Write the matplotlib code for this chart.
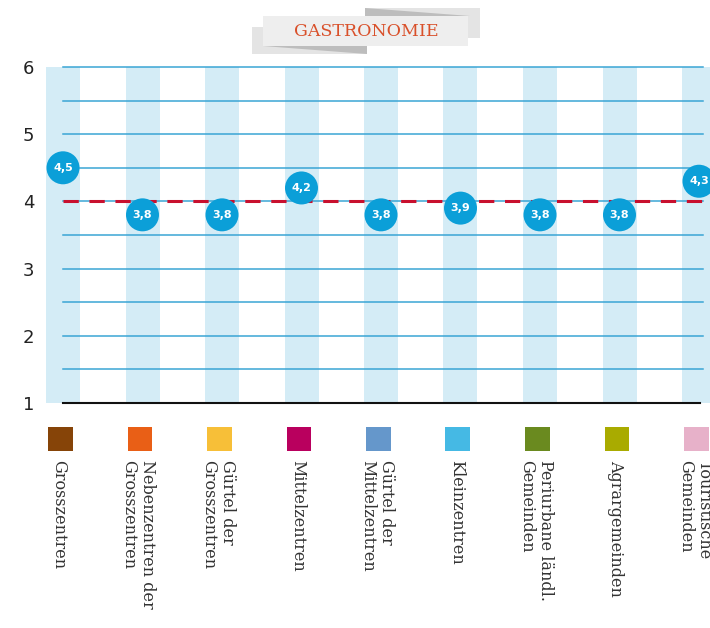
import matplotlib
matplotlib.use("Agg")
import matplotlib.pyplot as plt
from matplotlib.patches import Rectangle, Polygon, Circle

# data
categories = [
    "Grosszentren",
    "Nebenzentren der\nGrosszentren",
    "Gürtel der\nGrosszentren",
    "Mittelzentren",
    "Gürtel der\nMittelzentren",
    "Kleinzentren",
    "Periurbane ländl.\nGemeinden",
    "Agrargemeinden",
    "Touristische\nGemeinden",
]
values = [4.5, 3.8, 3.8, 4.2, 3.8, 3.9, 3.8, 3.8, 4.3]
value_labels = ["4,5", "3,8", "3,8", "4,2", "3,8", "3,9", "3,8", "3,8", "4,3"]
category_colors = ["#864408", "#e95f16", "#f7bf38", "#b9005e", "#6597cb",
                   "#45b9e4", "#6a8a1f", "#a9ab00", "#e7b1c9"]
mean_value = 4.0
y_ticks = [1, 2, 3, 4, 5, 6]
title = "GASTRONOMIE"

W, H = 710, 628
fig = plt.figure(figsize=(W / 100, H / 100), dpi=100)

# axes placed in pixel terms: col 0 at x=63px, spacing 79.5px
col0, step = 63, 79.5
ax_left, ax_right = 47, 710
y_bot, y_top = 403, 67
ax = fig.add_axes([ax_left / W, (H - y_bot) / H, (ax_right - ax_left) / W, (y_bot - y_top) / H])
ax.set_xlim((ax_left - col0) / step, (ax_right - col0) / step)
ax.set_ylim(1, 6)
for s in ax.spines.values():
    s.set_visible(False)
ax.set_xticks([])
ax.set_yticks(y_ticks)
ax.set_yticklabels([str(t) for t in y_ticks], fontsize=13, color="#222222", family="DejaVu Sans")
ax.tick_params(axis="y", length=0, pad=9)

n = len(categories)
band_w = 34 / step

# light blue column bands
for i in range(n):
    ax.add_patch(Rectangle((i - band_w / 2, 1), band_w, 5, facecolor="#d4ecf6",
                           edgecolor="none", zorder=0, clip_on=False))

# horizontal grid lines
grid_end = (703 - col0) / step
y = 1.5
while y <= 6.01:
    ax.plot([0, grid_end], [y, y], color="#3aa5d5", lw=1.1, zorder=1, clip_on=False)
    y += 0.5
ax.plot([0, (700 - col0) / step], [1, 1], color="#111111", lw=1.5, zorder=2, clip_on=False)

# mean dashed line
ax.plot([0, grid_end], [mean_value, mean_value], color="#c8102e", lw=2.2,
        dashes=(5, 3.5), zorder=3, clip_on=False)

# value circles
ppu_x = step  # pixels per x unit
ppu_y = (y_bot - y_top) / 5
r_px = 16.5
for i, (v, lab) in enumerate(zip(values, value_labels)):
    ax.scatter(i, v, s=(2 * r_px * 0.72) ** 2, color="#0b9fd8", zorder=5, clip_on=False,
               edgecolors="none")
    ax.text(i, v, lab, color="white", fontsize=8, fontweight="bold", ha="center",
            va="center", zorder=6, family="DejaVu Sans", clip_on=False)

# legend squares and labels under the axis
def py(p):
    return 1 - (p - y_bot) / ppu_y

for i, (c, lab) in enumerate(zip(category_colors, categories)):
    ax.add_patch(Rectangle((i - 15 / step, py(451)), 24.5 / step, py(427) - py(451),
                           facecolor=c, edgecolor="none", clip_on=False))
    ax.text(i - 4 / step, py(460), lab, rotation=270, rotation_mode="anchor",
            ha="left", va="center", fontsize=11.5, color="#333333",
            family="DejaVu Serif", linespacing=1.15, clip_on=False)

# title banner
fx = lambda p: p / W
fy = lambda p: 1 - p / H
fig.patches.append(Polygon([(fx(365), fy(8)), (fx(480), fy(8)), (fx(480), fy(38)), (fx(365), fy(38))],
                           closed=True, transform=fig.transFigure, facecolor="#e4e4e4",
                           edgecolor="none", zorder=1))
fig.patches.append(Polygon([(fx(365), fy(8)), (fx(470), fy(16)), (fx(365), fy(16))],
                           closed=True, transform=fig.transFigure, facecolor="#bdbdbd",
                           edgecolor="none", zorder=2))
fig.patches.append(Polygon([(fx(252), fy(27)), (fx(367), fy(27)), (fx(367), fy(54)), (fx(252), fy(54))],
                           closed=True, transform=fig.transFigure, facecolor="#e4e4e4",
                           edgecolor="none", zorder=1))
fig.patches.append(Polygon([(fx(263), fy(46)), (fx(367), fy(46)), (fx(367), fy(54))],
                           closed=True, transform=fig.transFigure, facecolor="#bdbdbd",
                           edgecolor="none", zorder=2))
fig.patches.append(Rectangle((fx(263), fy(46)), (468 - 263) / W, 30 / H,
                             transform=fig.transFigure, facecolor="#eeeeee",
                             edgecolor="none", zorder=3))
fig.text(fx(366), fy(31), title, ha="center", va="center", fontsize=12.5,
         color="#d9502a", family="DejaVu Serif", zorder=4)

fig.savefig("out.png", dpi=100)
